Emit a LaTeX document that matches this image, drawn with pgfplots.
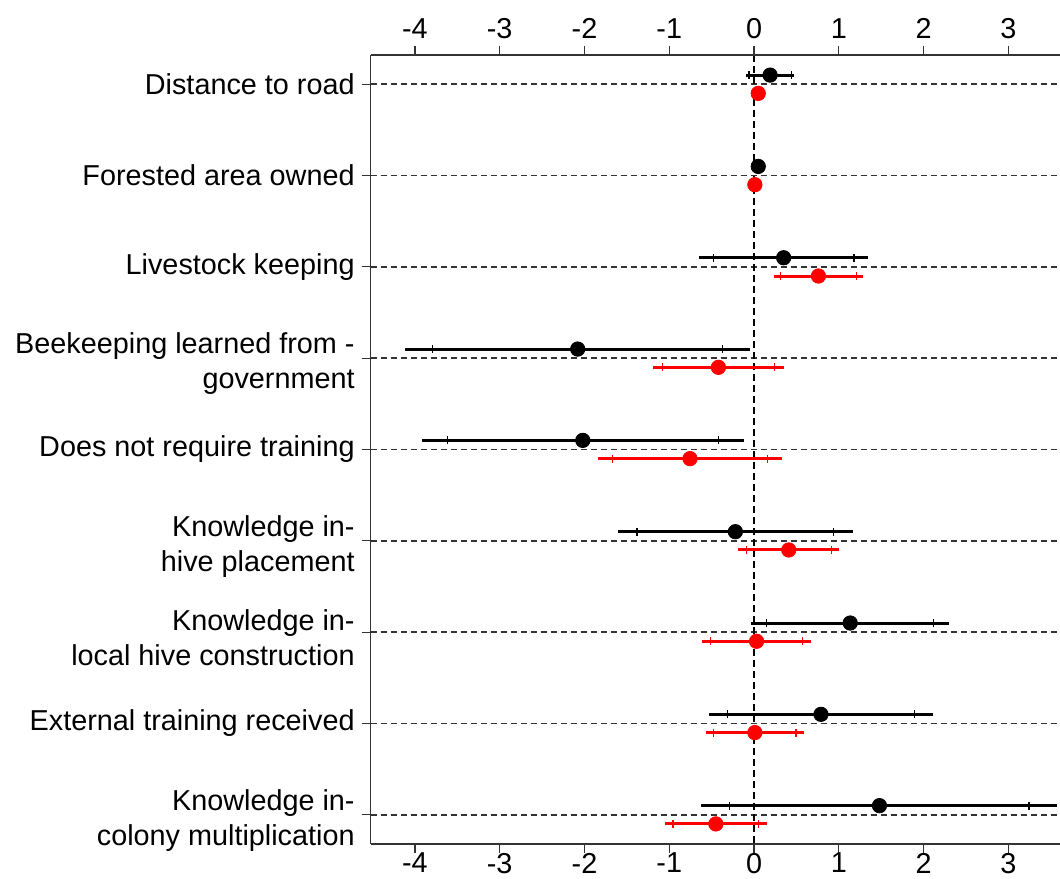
\documentclass[border=0pt]{standalone}
\usepackage{pgfplots}
\usepackage{pgfplotstable}
\pgfplotsset{compat=1.18}
\usepackage{fontspec}
\setmainfont{Liberation Sans}
\definecolor{rred}{RGB}{255,0,0}

% black series: y position (row - 0.1), estimate, 95% half-width, 90% half-width
\pgfplotstableread{
y est e95 e90
0.9 0.19 0.285 0.25
1.9 0.05 0.04 0.03
2.9 0.35 1.00 0.83
3.9 -2.08 2.035 1.71
4.9 -2.02 1.90 1.60
5.9 -0.22 1.385 1.16
6.9 1.135 1.165 0.985
7.9 0.79 1.32 1.105
8.9 1.48 2.10 1.765
}\blacktab

% red series: y position (row + 0.1)
\pgfplotstableread{
y est e95 e90
1.1 0.05 0.04 0.03
2.1 0.01 0.03 0.025
3.1 0.76 0.53 0.445
4.1 -0.42 0.775 0.66
5.1 -0.755 1.09 0.915
6.1 0.41 0.595 0.50
7.1 0.03 0.645 0.545
8.1 0.01 0.58 0.485
9.1 -0.45 0.60 0.505
}\redtab

\newcommand{\up}{\rule{0pt}{16pt}}

\begin{document}
\begin{tikzpicture}
\pgfplotsset{
  common/.style={
    scale only axis, width=344.65pt, height=394.5pt,
    xmin=-4.522, xmax=3.61, ymin=0.68, ymax=9.32, y dir=reverse,
    xtick={-4,-3,-2,-1,0,1,2,3},
    xticklabels={-4,-3,-2,-1,0,1,2,3},
    tick align=outside, major tick length=4.5pt,
    ticklabel style={font=\fontsize{14.4}{17.6}\selectfont},
    axis line style={black!80, line width=0.6pt},
    tick style={black!80, line width=0.6pt},
  }
}
\begin{axis}[common,
  axis x line*=box, axis y line*=left,
  xticklabel pos=lower,
  xticklabel style={yshift=3.5pt},
  ytick={1,2,3,4,5,6,7,8,9},
  yticklabels={
    {Distance to road},
    {Forested area owned},
    {Livestock keeping},
    {\up Beekeeping learned from -\\government},
    {Does not require training},
    {\up Knowledge in-\\hive placement},
    {\up Knowledge in-\\local hive construction},
    {External training received},
    {\up Knowledge in-\\colony multiplication}},
  yticklabel style={align=right},
  ymajorgrids,
  grid style={black!80, line width=0.75pt, dash pattern=on 3pt off 2pt},
  clip=false,
]
\draw[black, line width=0.6pt, dash pattern=on 3.5pt off 2pt] (0,0.68) -- (0,9.32);

% black: 95% intervals
\addplot[draw=none, mark=none, forget plot,
  error bars/.cd, x dir=both, x explicit, error mark=none,
  error bar style={draw=black, line width=1.5pt}]
  table[x=est, y=y, x error=e95] {\blacktab};
% black: 90% interval ticks
\addplot[draw=none, mark=none, forget plot,
  error bars/.cd, x dir=both, x explicit, error mark=|,
  error bar style={draw=black, line width=0.5pt},
  error mark options={draw=black, line width=0.6pt, mark size=2pt}]
  table[x=est, y=y, x error=e90] {\blacktab};
\addplot[only marks, mark=*, mark size=3.6pt, black]
  table[x=est, y=y] {\blacktab};

% red: 95% intervals
\addplot[draw=none, mark=none, forget plot,
  error bars/.cd, x dir=both, x explicit, error mark=none,
  error bar style={draw=rred, line width=1.5pt}]
  table[x=est, y=y, x error=e95] {\redtab};
% red: 90% interval ticks
\addplot[draw=none, mark=none, forget plot,
  error bars/.cd, x dir=both, x explicit, error mark=|,
  error bar style={draw=rred, line width=0.5pt},
  error mark options={draw=rred, line width=0.6pt, mark size=2pt}]
  table[x=est, y=y, x error=e90] {\redtab};
\addplot[only marks, mark=*, mark size=3.6pt, rred, draw=rred, fill=rred]
  table[x=est, y=y] {\redtab};
\end{axis}
\begin{axis}[common,
  axis x line*=top, axis y line=none,
  xticklabel pos=upper,
]
\end{axis}
\pgfresetboundingbox
\path[use as bounding box] (-185.35pt,-17pt) rectangle (344.65pt,422pt);
\end{tikzpicture}
\end{document}
